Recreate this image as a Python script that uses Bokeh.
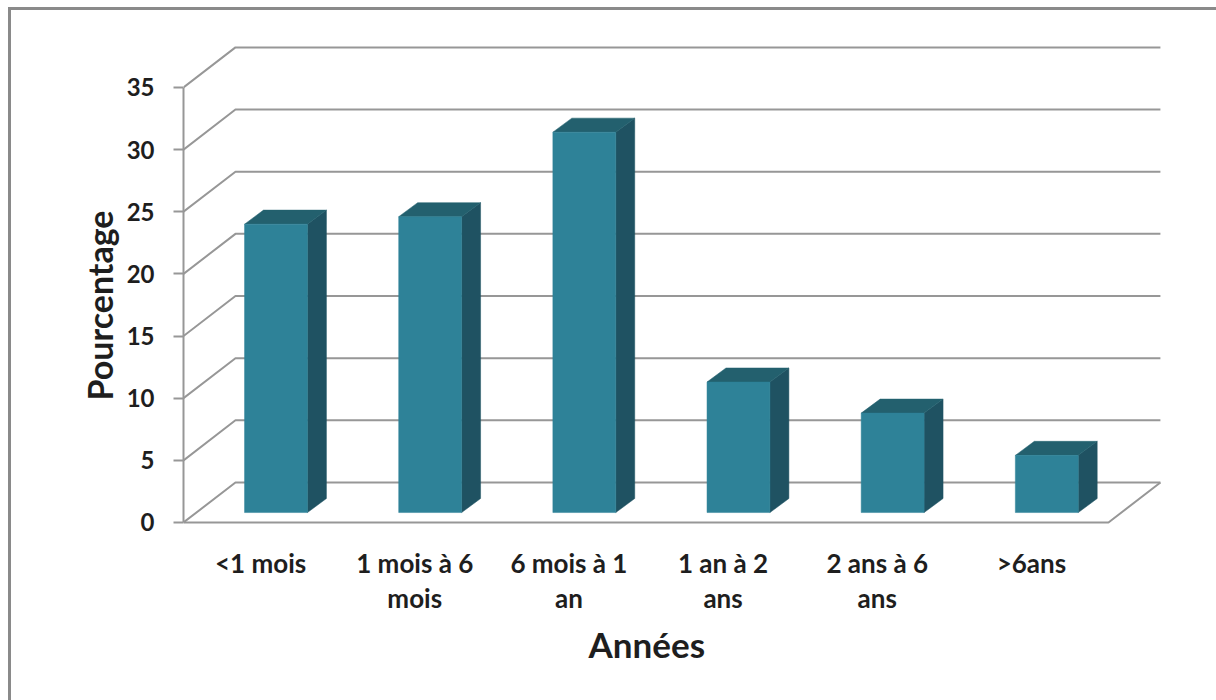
from bokeh.plotting import figure
from bokeh.models import FixedTicker, Range1d, Title, InlineStyleSheet
from bokeh.embed import file_html
from bokeh.resources import INLINE

# Data
categories = ["<1 mois", "1 mois à 6\nmois", "6 mois à 1\nan", "1 an à 2\nans", "2 ans à 6\nans", ">6ans"]
percentages = [23.2, 23.8, 30.6, 10.5, 8.0, 4.6]
y_ticks = [0, 5, 10, 15, 20, 25, 30, 35]

# 3D projection parameters (data units)
DX, DY = 0.337, 3.22          # depth of the floor / walls
OX, OY = 0.10, 0.80           # where the bar front face sits in depth
BDX, BDY = 0.123, 1.13        # depth of each bar
HALF_W = 0.204                # half width of a bar front face
X0, X1 = 0.5, 0.5 + len(categories)

FONT = "Lato"
TEXT_COLOR = "#1e1e1e"
GRID_COLOR = "#979797"
FRONT, SIDE, TOP = "#2E8298", "#1F5262", "#23606E"

# chart-area border: left and top edges only
frame_css = InlineStyleSheet(css="""
:host::before {
  content: "";
  position: absolute;
  left: 8px; top: 7px; right: 0; bottom: 0;
  border: none !important;
  outline: none !important;
  box-shadow: inset 3px 3px 0 0 #8a8a8a;
  pointer-events: none;
  z-index: 5;
}
""")

p = figure(width=1216, height=700,
           x_range=Range1d(X0, X0 + 6.597), y_range=Range1d(-0.161, 39.58),
           output_backend="svg", toolbar_location=None,
           min_border_left=183, min_border_right=16,
           min_border_top=30, min_border_bottom=176,
           outline_line_color=None,
           background_fill_color="white", border_fill_color="white",
           stylesheets=[frame_css])
p.xgrid.visible = False
p.ygrid.visible = False

# Side wall diagonals and back wall gridlines
xs, ys = [], []
for v in y_ticks:
    xs.append([X0, X0 + DX, X1 + DX])
    ys.append([v, v + DY, v + DY])
# floor front edge and right edge
xs.append([X0, X1, X1 + DX])
ys.append([0, 0, DY])
p.multi_line(xs, ys, line_color=GRID_COLOR, line_width=2)

# Bars
for i, val in enumerate(percentages):
    c = i + 1 + OX
    L, R = c - HALF_W, c + HALF_W
    b, t = OY, OY + val
    # right side face
    p.patch([R, R + BDX, R + BDX, R], [b, b + BDY, t + BDY, t],
            fill_color=SIDE, line_color=SIDE, line_width=0.5)
    # top face
    p.patch([L, L + BDX, R + BDX, R], [t, t + BDY, t + BDY, t],
            fill_color=TOP, line_color=TOP, line_width=0.5)
    # front face
    p.quad(left=[L], right=[R], bottom=[b], top=[t],
           fill_color=FRONT, line_color=FRONT, line_width=0.5)

# Y axis
ya = p.yaxis[0]
ya.ticker = FixedTicker(ticks=y_ticks)
ya.bounds = (0, 35)
ya.axis_line_color = GRID_COLOR
ya.axis_line_width = 2
ya.major_tick_line_color = GRID_COLOR
ya.major_tick_line_width = 2
ya.major_tick_out = 10
ya.major_tick_in = 0
ya.minor_tick_line_color = None
ya.major_label_standoff = 19
ya.major_label_text_font = FONT
ya.major_label_text_font_style = "bold"
ya.major_label_text_font_size = "24px"
ya.major_label_text_color = TEXT_COLOR

# X axis
xa = p.xaxis[0]
xa.ticker = FixedTicker(ticks=[i + 1 for i in range(len(categories))])
xa.major_label_overrides = {i + 1: lab for i, lab in enumerate(categories)}
xa.bounds = (X0, X1)
xa.axis_line_color = None
xa.major_tick_line_color = None
xa.minor_tick_line_color = None
xa.major_tick_in = 0
xa.major_tick_out = 0
xa.major_label_standoff = 22
xa.major_label_text_font = FONT
xa.major_label_text_font_style = "bold"
xa.major_label_text_font_size = "26px"
xa.major_label_text_line_height = 1.1
xa.major_label_text_color = TEXT_COLOR

# Axis titles, placed along the front edges of the chart
p.add_layout(Title(text="Pourcentage", align="left", offset=124, standoff=8,
                   text_font=FONT, text_font_style="bold", text_font_size="34px",
                   text_color=TEXT_COLOR), "left")
p.add_layout(Title(text="Années", align="left", offset=405, standoff=8,
                   text_font=FONT, text_font_style="bold", text_font_size="35px",
                   text_color=TEXT_COLOR), "below")

open("out.html", "w").write(file_html(p, INLINE))
